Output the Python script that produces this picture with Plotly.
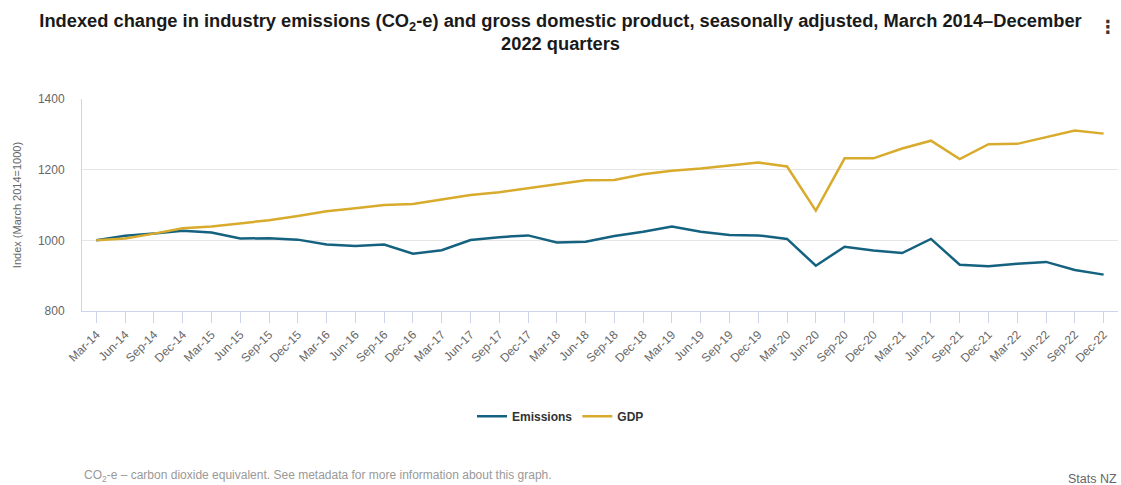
import plotly.graph_objects as go

quarters = ["Mar-14","Jun-14","Sep-14","Dec-14","Mar-15","Jun-15","Sep-15","Dec-15",
            "Mar-16","Jun-16","Sep-16","Dec-16","Mar-17","Jun-17","Sep-17","Dec-17",
            "Mar-18","Jun-18","Sep-18","Dec-18","Mar-19","Jun-19","Sep-19","Dec-19",
            "Mar-20","Jun-20","Sep-20","Dec-20","Mar-21","Jun-21","Sep-21","Dec-21",
            "Mar-22","Jun-22","Sep-22","Dec-22"]

emissions = [1000, 1013, 1019, 1027, 1022, 1005, 1006, 1002,
             988, 984, 988, 962, 972, 1001, 1009, 1014,
             994, 996, 1012, 1024, 1039, 1024, 1015, 1014,
             1004, 928, 982, 971, 964, 1004, 931, 927,
             934, 939, 916, 903]

gdp = [1000, 1005, 1019, 1034, 1039, 1048, 1057, 1069,
       1082, 1091, 1100, 1103, 1116, 1128, 1136, 1147,
       1158, 1170, 1171, 1187, 1197, 1203, 1212, 1220,
       1209, 1084, 1232, 1232, 1260, 1282, 1230, 1272,
       1273, 1292, 1311, 1302]

y_ticks = [800, 1000, 1200, 1400]

EM_COLOR = "#14627f"
GDP_COLOR = "#d8ab2c"
FONT = "Liberation Sans"

fig = go.Figure()
fig.add_trace(go.Scatter(x=quarters, y=emissions, name="Emissions", mode="lines",
                         line=dict(color=EM_COLOR, width=2.5)))
fig.add_trace(go.Scatter(x=quarters, y=gdp, name="GDP", mode="lines",
                         line=dict(color=GDP_COLOR, width=2.5)))

fig.update_layout(
    width=1121, height=485,
    margin=dict(l=82, r=3, t=99, b=174),
    paper_bgcolor="white", plot_bgcolor="white",
    font=dict(family=FONT, color="#666666"),
    title=dict(
        text="<b>Indexed change in industry emissions (CO<sub>2</sub>-e) and gross domestic product, seasonally adjusted, March 2014–December<br>2022 quarters</b>",
        x=0.5, xanchor="center", xref="container",
        y=0.945, yanchor="top", yref="container",
        font=dict(family=FONT, size=18.3, color="#1a1a1a"),
    ),
    showlegend=True,
    legend=dict(orientation="h", x=0.5, xanchor="center", xref="container",
                y=0.142, yanchor="middle", yref="container",
                font=dict(family=FONT, size=12, color="#333333", weight="bold"),
                itemwidth=30, traceorder="normal"),
    hovermode=False,
)

fig.update_xaxes(
    type="category", range=[-0.5, len(quarters) - 0.5],
    tickangle=-45, tickfont=dict(size=12, color="#666666"),
    showline=True, linecolor="#ccd6eb", linewidth=1,
    ticks="outside", ticklen=11, tickcolor="#ccd6eb",
    showgrid=False, zeroline=False,
)
fig.update_yaxes(
    range=[800, 1400], tickvals=y_ticks,
    tickfont=dict(size=12, color="#666666"),
    showgrid=True, gridcolor="#e6e6e6", gridwidth=1,
    showline=True, linecolor="#ccd6eb", linewidth=1,
    zeroline=False, ticks="", ticklabelstandoff=14,
    title=dict(text="Index (March 2014=1000)", font=dict(size=11, color="#666666"), standoff=14),
)

fig.add_annotation(text="CO<sub>2</sub>-e – carbon dioxide equivalent. See metadata for more information about this graph.",
                   xref="paper", yref="paper", x=0, y=0, xanchor="left", yanchor="middle",
                   xshift=0, yshift=-165, showarrow=False,
                   font=dict(family=FONT, size=12, color="#999999"))
fig.add_annotation(text="Stats NZ", xref="paper", yref="paper", x=1, y=0,
                   xanchor="right", yanchor="middle", xshift=1, yshift=-168, showarrow=False,
                   font=dict(family=FONT, size=12.5, color="#666666"))
fig.add_annotation(text="<b>⋮</b>", xref="paper", yref="paper", x=1, y=1,
                   xanchor="right", yanchor="middle", xshift=1, yshift=73, showarrow=False,
                   font=dict(family="DejaVu Sans", size=18, color="#333333"))

fig.write_html("out.html")
